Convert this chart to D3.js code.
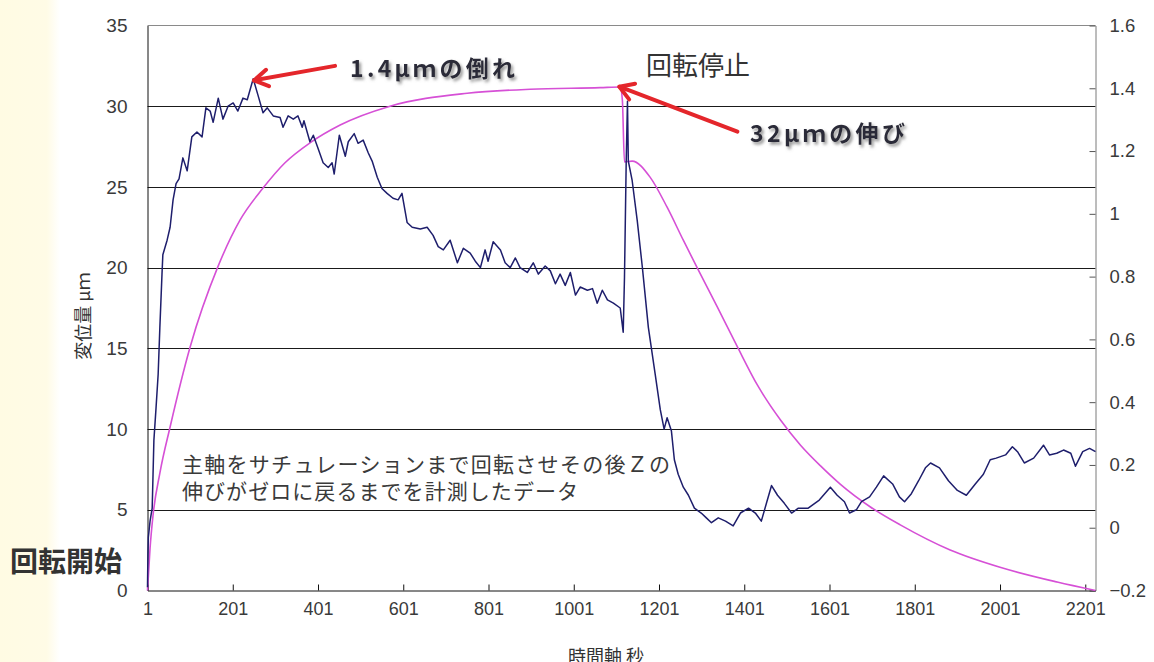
<!DOCTYPE html>
<html>
<head>
<meta charset="utf-8">
<script src="https://cdn.jsdelivr.net/npm/d3@7"></script>
<style>
  html, body { margin: 0; padding: 0; background: #ffffff; }
  svg { display: block; }
</style>
</head>
<body>
<svg id="chart" width="1154" height="662"></svg>
<script>
// ---- Data ---------------------------------------------------------------
// Elapsed time (s) and Z displacement (µm), left axis
const blueTime = [1,2,3,7,12,14,16,21,26,30,35,37,47,54,61,68,75,84,94,105,117,129,138,148,155,167,178,190,202,213,225,235,249,260,272,282,296,312,319,331,343,354,364,368,382,390,401,413,425,434,439,451,465,472,486,495,507,519,528,540,551,563,577,589,598,610,622,641,657,671,683,695,711,728,742,758,770,782,793,800,812,829,840,852,864,875,892,906,918,934,946,958,969,981,993,1005,1016,1033,1045,1056,1068,1080,1094,1110,1117,1120,1124,1127,1129,1138,1150,1162,1176,1192,1204,1213,1220,1230,1237,1246,1258,1270,1284,1300,1312,1324,1340,1357,1375,1392,1411,1427,1441,1453,1465,1479,1495,1512,1528,1551,1577,1603,1619,1636,1648,1664,1676,1695,1711,1728,1749,1765,1777,1793,1810,1826,1838,1859,1880,1901,1922,1943,1962,1978,1992,2014,2030,2042,2058,2080,2103,2117,2134,2150,2167,2178,2195,2211,2225];
const blueDisp = [0.2,2.2,3.3,4.3,5.1,7.2,9.3,11.3,13.4,16.3,19.6,20.8,21.7,22.5,24.2,25.2,25.5,26.8,26.0,28.1,28.4,28.1,29.9,29.7,29.0,30.5,29.2,30.0,30.2,29.7,30.5,30.4,31.7,30.7,29.6,29.9,29.4,29.3,28.7,29.4,29.2,29.4,28.7,29.1,27.8,28.2,27.4,26.5,26.2,26.5,25.8,28.2,26.9,27.8,28.3,27.7,27.9,27.1,26.6,25.6,24.9,24.6,24.3,24.2,24.6,22.8,22.5,22.4,22.5,22.0,21.3,21.1,21.7,20.3,21.2,20.9,20.4,20.0,21.1,20.4,21.6,21.1,20.3,20.0,20.6,20.0,19.7,20.3,19.6,20.1,19.8,19.0,19.6,18.9,19.7,18.3,18.8,18.6,18.7,17.8,18.6,18.0,17.8,17.5,16.0,19.4,26.5,30.3,26.6,25.4,22.9,20.0,16.3,13.4,11.2,10.0,10.7,9.9,8.1,7.2,6.4,5.9,5.1,4.8,4.5,4.2,4.5,4.3,4.0,4.8,5.1,4.8,4.3,5.4,6.5,5.9,5.4,4.8,5.1,5.1,5.6,6.4,5.9,5.5,4.8,5.0,5.5,5.8,6.4,7.1,6.6,5.8,5.5,6.0,6.8,7.6,7.9,7.6,6.8,6.2,5.9,6.6,7.2,8.1,8.2,8.4,8.9,8.6,7.9,8.2,9.0,8.4,8.5,8.7,8.5,7.7,8.6,8.8,8.6];

// Elapsed time (s) and the right-axis signal
const pinkTime = [1,7,14,30,54,101,166,218,272,323,382,453,570,751,899,1063,1110,1115,1120,1138,1180,1220,1258,1291,1338,1385,1432,1486,1533,1580,1626,1697,1767,1884,2001,2135,2225];
const pinkValue = [-0.2,-0.065,0.04,0.174,0.321,0.576,0.831,0.98,1.082,1.162,1.226,1.283,1.343,1.384,1.397,1.402,1.404,1.363,1.165,1.168,1.117,1.021,0.916,0.827,0.703,0.576,0.454,0.343,0.263,0.197,0.139,0.066,0.009,-0.071,-0.126,-0.173,-0.2];

// Axis ticks
const xTicks = [1,201,401,601,801,1001,1201,1401,1601,1801,2001,2201];
const leftTicks = [0,5,10,15,20,25,30,35];
const rightTicks = [-0.2,0,0.2,0.4,0.6,0.8,1,1.2,1.4,1.6];

// Labels
const leftTitle = "変位量 μｍ";
const bottomTitle = "時間軸 秒";
const noteLines = ["主軸をサチュレーションまで回転させその後Ｚの", "伸びがゼロに戻るまでを計測したデータ"];
const noteWidths = [488, 396];

// ---- Layout -------------------------------------------------------------
const svg = d3.select("#chart");
const W = 1154, H = 662;
const box = { left: 147.5, right: 1095.5, top: 25.5, bottom: 590.5 };
const numFont = "'Liberation Sans', Arial, sans-serif";
const jpFont = "'Noto Sans CJK JP', 'Noto Sans', sans-serif";

const x = d3.scaleLinear().domain([1, 2225]).range([box.left, box.right]);
const yL = d3.scaleLinear().domain([0, 35]).range([box.bottom, box.top]);
const yR = d3.scaleLinear().domain([-0.2, 1.6]).range([box.bottom, box.top]);

const defs = svg.append("defs");
const grad = defs.append("linearGradient").attr("id", "sideFade")
  .attr("x1", "0").attr("x2", "1").attr("y1", "0").attr("y2", "0");
grad.append("stop").attr("offset", "0").attr("stop-color", "#fffbe3");
grad.append("stop").attr("offset", "0.78").attr("stop-color", "#fffbe6");
grad.append("stop").attr("offset", "1").attr("stop-color", "#ffffff");

const shadow = defs.append("filter").attr("id", "softShadow")
  .attr("x", "-10%").attr("y", "-30%").attr("width", "130%").attr("height", "180%");
shadow.append("feDropShadow").attr("dx", 2).attr("dy", 2.5)
  .attr("stdDeviation", 1.6).attr("flood-color", "#777").attr("flood-opacity", 0.8);

// page background with a pale strip on the left
svg.append("rect").attr("width", W).attr("height", H).attr("fill", "#ffffff");
svg.append("rect").attr("width", 60).attr("height", H).attr("fill", "url(#sideFade)");

// horizontal gridlines
svg.append("g").selectAll("line")
  .data(leftTicks.filter(d => d > 0 && d < 35))
  .join("line")
  .attr("x1", box.left).attr("x2", box.right)
  .attr("y1", d => Math.round(yL(d)) + 0.5).attr("y2", d => Math.round(yL(d)) + 0.5)
  .attr("stroke", "#1a1a1a").attr("stroke-width", 1);

// top border
svg.append("line")
  .attr("x1", box.left).attr("x2", box.right)
  .attr("y1", box.top).attr("y2", box.top)
  .attr("stroke", "#8a8a8a").attr("stroke-width", 1);

// right axis
const rAxis = svg.append("g")
  .attr("transform", `translate(${box.right},0)`)
  .call(d3.axisRight(yR).tickValues(rightTicks)
    .tickSizeInner(-6).tickSizeOuter(0).tickPadding(14)
    .tickFormat(d => d < 0 ? "−" + Math.abs(d) : String(d)));
rAxis.select(".domain").attr("stroke", "#7a7a7a");
rAxis.selectAll(".tick line").attr("stroke", "#555");
rAxis.selectAll("text").attr("font-family", numFont).attr("font-size", 18.5).attr("fill", "#3a3a3a");

// left axis
const lAxis = svg.append("g")
  .attr("transform", `translate(${box.left},0)`)
  .call(d3.axisLeft(yL).tickValues(leftTicks).tickSize(0).tickPadding(20));
lAxis.select(".domain").attr("stroke", "#111");
lAxis.selectAll("text").attr("font-family", numFont).attr("font-size", 19).attr("fill", "#3a3a3a");

// bottom axis
const bAxis = svg.append("g")
  .attr("transform", `translate(0,${box.bottom})`)
  .call(d3.axisBottom(x).tickValues(xTicks)
    .tickSizeInner(-6).tickSizeOuter(0).tickPadding(12)
    .tickFormat(d => String(d)));
bAxis.select(".domain").attr("stroke", "#111");
bAxis.selectAll(".tick line").attr("stroke", "#111");
bAxis.selectAll("text").attr("font-family", numFont).attr("font-size", 18).attr("fill", "#3a3a3a");

// axis titles
svg.append("text")
  .attr("transform", `translate(90,${(box.top + box.bottom) / 2 + 8}) rotate(-90)`)
  .attr("text-anchor", "middle")
  .attr("font-family", jpFont).attr("font-size", 18).attr("fill", "#333")
  .text(leftTitle);

svg.append("text")
  .attr("x", 606).attr("y", 663)
  .attr("text-anchor", "middle")
  .attr("font-family", jpFont).attr("font-size", 18).attr("fill", "#333")
  .text(bottomTitle);

// ---- Series -------------------------------------------------------------
const pinkData = pinkTime.map((t, i) => [t, pinkValue[i]]);
const blueData = blueTime.map((t, i) => [t, blueDisp[i]]);

svg.append("path")
  .datum(pinkData)
  .attr("fill", "none")
  .attr("stroke", "#d650d6")
  .attr("stroke-width", 1.6)
  .attr("d", d3.line().x(d => x(d[0])).y(d => yR(d[1])).curve(d3.curveMonotoneX));

svg.append("path")
  .datum(blueData)
  .attr("fill", "none")
  .attr("stroke", "#1e1e6c")
  .attr("stroke-width", 1.5)
  .attr("stroke-linejoin", "round")
  .attr("d", d3.line().x(d => x(d[0])).y(d => yL(d[1])));

// ---- Annotations --------------------------------------------------------
function arrow(x1, y1, x2, y2) {
  const g = svg.append("g").attr("stroke", "#e4262b").attr("stroke-width", 4)
    .attr("stroke-linecap", "round").attr("fill", "none");
  g.append("line").attr("x1", x1).attr("y1", y1).attr("x2", x2).attr("y2", y2);
  const a = Math.atan2(y2 - y1, x2 - x1);
  const len = 16, spread = 0.55;
  const p1 = [x2 - len * Math.cos(a - spread), y2 - len * Math.sin(a - spread)];
  const p2 = [x2 - len * Math.cos(a + spread), y2 - len * Math.sin(a + spread)];
  g.append("path").attr("d", `M${p1[0]},${p1[1]} L${x2},${y2} L${p2[0]},${p2[1]}`)
    .attr("stroke-linejoin", "round");
}

// peak tilt arrow
arrow(x(441), yL(32.5), x(251), yL(31.6));
// rotation stop arrow
arrow(x(1385), yR(1.262), x(1108), yR(1.405));

svg.append("text")
  .attr("x", 350).attr("y", 77)
  .attr("font-family", jpFont).attr("font-size", 23).attr("font-weight", "bold")
  .attr("fill", "#2b2b38").attr("filter", "url(#softShadow)")
  .attr("textLength", 165).attr("lengthAdjust", "spacing")
  .text("1.4μｍの倒れ");

svg.append("text")
  .attr("x", 750).attr("y", 142)
  .attr("font-family", jpFont).attr("font-size", 23).attr("font-weight", "bold")
  .attr("fill", "#2b2b38").attr("filter", "url(#softShadow)")
  .attr("textLength", 155).attr("lengthAdjust", "spacing")
  .text("32μｍの伸び");

svg.append("text")
  .attr("x", 646).attr("y", 75)
  .attr("font-family", jpFont).attr("font-size", 26)
  .attr("fill", "#333")
  .text("回転停止");

svg.append("text")
  .attr("x", 10).attr("y", 572)
  .attr("font-family", jpFont).attr("font-size", 28).attr("font-weight", "bold")
  .attr("fill", "#333")
  .text("回転開始");

svg.append("g").selectAll("text")
  .data(noteLines)
  .join("text")
  .attr("x", 182)
  .attr("y", (d, i) => 472 + i * 27)
  .attr("font-family", jpFont).attr("font-size", 21)
  .attr("fill", "#3a3a3a")
  .attr("textLength", (d, i) => noteWidths[i]).attr("lengthAdjust", "spacing")
  .text(d => d);
</script>
</body>
</html>
